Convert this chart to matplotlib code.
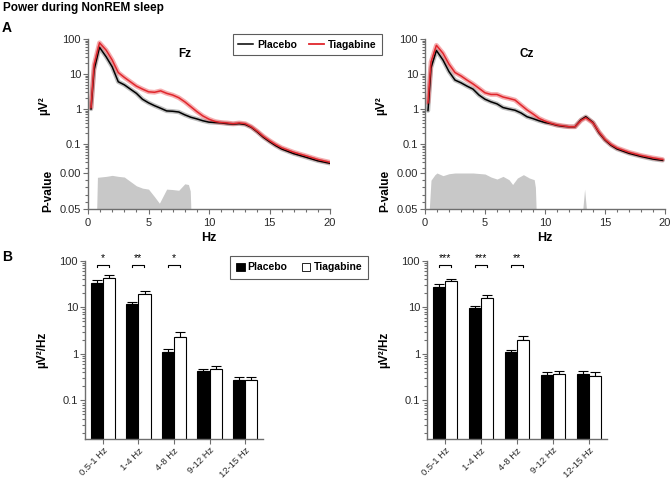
import numpy as np
import matplotlib
matplotlib.use("Agg")
import matplotlib.pyplot as plt
from matplotlib import font_manager
from matplotlib.ticker import FixedLocator, LogLocator, NullFormatter, MultipleLocator
from matplotlib.lines import Line2D
from matplotlib.patches import Patch

plt.rcParams['font.family'] = ['Liberation Sans', 'DejaVu Sans']
_names = {f.name for f in font_manager.fontManager.ttflist}
NARROW = 'Liberation Sans Narrow' if 'Liberation Sans Narrow' in _names else 'Liberation Sans'

# ── Spectra ──
FREQ = [0.25, 0.5, 0.95, 1.5, 2.0, 2.5, 3.0, 3.5, 4.0, 4.5, 5.0, 5.5, 6.0, 6.5, 7.0,
        7.5, 8.0, 8.5, 9.0, 9.5, 10.0, 10.5, 11.0, 11.5, 12.0, 12.5, 13.0, 13.5,
        14.0, 14.5, 15.0, 15.5, 16.0, 17.0, 18.0, 19.0, 20.0]
FZ_PLACEBO = [1.0, 13, 58, 31, 16, 6.0, 4.9, 3.7, 2.8, 1.9, 1.5, 1.24, 1.05, 0.88, 0.86,
              0.82, 0.68, 0.58, 0.52, 0.46, 0.42, 0.41, 0.40, 0.38, 0.37, 0.38, 0.36, 0.30,
              0.22, 0.155, 0.117, 0.09, 0.072, 0.053, 0.042, 0.033, 0.028]
FZ_TIAGABINE = [1.1, 18, 78, 48, 25, 11, 8.0, 6.0, 4.5, 3.7, 3.1, 3.0, 3.3, 2.8, 2.5,
                2.1, 1.6, 1.16, 0.84, 0.63, 0.51, 0.44, 0.41, 0.40, 0.38, 0.40, 0.38, 0.31,
                0.23, 0.165, 0.125, 0.097, 0.078, 0.058, 0.046, 0.036, 0.030]

FREQ_CZ = [0.25, 0.5, 0.95, 1.5, 2.0, 2.5, 3.0, 3.5, 4.0, 4.5, 5.0, 5.5, 6.0, 6.5, 7.0,
           7.5, 8.0, 8.5, 9.0, 9.5, 10.0, 10.5, 11.0, 11.5, 12.0, 12.5, 13.0, 13.4,
           14.0, 14.5, 15.0, 15.5, 16.0, 17.0, 18.0, 19.0, 19.8]
CZ_PLACEBO = [0.9, 15, 47, 25, 11.7, 6.7, 5.6, 4.5, 3.7, 2.5, 1.9, 1.6, 1.4, 1.1, 1.0,
              0.92, 0.77, 0.60, 0.53, 0.46, 0.41, 0.38, 0.34, 0.32, 0.31, 0.31, 0.49, 0.60,
              0.41, 0.21, 0.13, 0.092, 0.072, 0.054, 0.044, 0.037, 0.034]
CZ_TIAGABINE = [1.5, 22, 66, 39, 19, 11, 8.8, 6.7, 5.2, 3.9, 2.9, 2.6, 2.6, 2.2, 2.0,
                1.8, 1.3, 0.94, 0.72, 0.54, 0.45, 0.39, 0.35, 0.33, 0.31, 0.31, 0.47, 0.56,
                0.40, 0.22, 0.135, 0.097, 0.077, 0.058, 0.047, 0.040, 0.036]

# ── P-values (significant stretches) ──
FZ_P_FREQ = [0.72, 0.78, 1.0, 1.5, 2.0, 2.5, 3.0, 3.5, 4.0, 4.5, 5.0, 5.5, 5.9, 6.5,
             7.0, 7.5, 8.0, 8.3, 8.45, 8.5]
FZ_P = [0.05, 0.006, 0.0056, 0.0047, 0.0033, 0.0047, 0.0056, 0.0117, 0.0178, 0.021,
        0.0224, 0.033, 0.042, 0.0224, 0.023, 0.024, 0.015, 0.016, 0.025, 0.05]
CZ_P_FREQ = [0.36, 0.5, 0.83, 1.0, 1.5, 2.0, 2.5, 3.0, 4.0, 5.0, 5.5, 6.0, 6.5, 7.0,
             7.3, 7.7, 8.2, 8.7, 9.1, 9.2, 9.26,
             13.15, 13.3, 13.45]
CZ_P = [0.05, 0.01, 0.0023, 0.0, 0.0037, 0.001, 0.0, 0.0, 0.0, 0.0014, 0.0056, 0.0084,
        0.0047, 0.0093, 0.016, 0.007, 0.0023, 0.007, 0.0093, 0.02, 0.05,
        0.05, 0.0224, 0.05]

# ── Band power bars ──
BANDS = ["0.5-1 Hz", "1-4 Hz", "4-8 Hz", "9-12 Hz", "12-15 Hz"]
FZ_BAR_PLA = [33.5, 11.8, 1.08, 0.425, 0.27]
FZ_BAR_PLA_ERR = [38.7, 13.1, 1.24, 0.48, 0.31]
FZ_BAR_TIA = [43.3, 19.0, 2.35, 0.47, 0.27]
FZ_BAR_TIA_ERR = [50.0, 22.0, 2.95, 0.55, 0.31]
CZ_BAR_PLA = [27.6, 9.7, 1.08, 0.35, 0.37]
CZ_BAR_PLA_ERR = [31.9, 10.8, 1.2, 0.41, 0.43]
CZ_BAR_TIA = [37.4, 15.7, 1.97, 0.365, 0.34]
CZ_BAR_TIA_ERR = [41.0, 18.2, 2.36, 0.43, 0.41]
FZ_STARS = ["*", "**", "*"]
CZ_STARS = ["***", "***", "**"]

RED = "#e0262c"
SPINE = "#6e6e6e"
TICKCOL = "#2a2a2a"
W, H = 671, 479


def frac(left, top, right, bottom):
    return [left / W, 1 - bottom / H, (right - left) / W, (bottom - top) / H]


def style_ax(ax):
    for s in ax.spines.values():
        s.set_color(SPINE)
        s.set_linewidth(1.0)
    ax.spines['top'].set_visible(False)
    ax.spines['right'].set_visible(False)
    ax.tick_params(which='both', direction='out', colors=SPINE, labelcolor=TICKCOL,
                   labelsize=8, width=0.8, labelfontfamily=NARROW)
    ax.tick_params(which='major', length=3.5, pad=1.5)
    ax.tick_params(which='minor', length=2)


def spectrum(ax, pax, f, pla, tia, pf, pv):
    ax.plot(f, pla, color="#8a8a8a", lw=3.2, alpha=0.55, solid_capstyle='round')
    ax.plot(f, tia, color="#ee6a6e", lw=3.4, alpha=0.55, solid_capstyle='round')
    ax.plot(f, pla, color="black", lw=1.1)
    ax.plot(f, tia, color=RED, lw=1.1)
    ax.set_yscale('log')
    ax.set_ylim(0.0148, 100)
    ax.set_xlim(0, 20)
    style_ax(ax)
    ax.spines['bottom'].set_visible(False)
    ax.set_xticks([])
    ax.yaxis.set_major_locator(FixedLocator([0.1, 1, 10, 100]))
    ax.set_yticklabels(["0.1", "1", "10", "100"])
    ax.yaxis.set_minor_locator(LogLocator(base=10, subs=np.arange(2, 10)))
    ax.yaxis.set_minor_formatter(NullFormatter())
    ax.set_ylabel("µV²", fontsize=8.5, fontweight='bold', labelpad=9)

    pax.fill_between(pf, pv, 0.05, color="#c8c8c8", lw=0)
    pax.set_ylim(0.05, 0.0)
    pax.set_xlim(0, 20)
    style_ax(pax)
    pax.set_yticks([0.0, 0.05])
    pax.set_yticklabels(["0.00", "0.05"])
    pax.yaxis.set_minor_locator(MultipleLocator(0.01))
    pax.set_xticks([0, 5, 10, 15, 20])
    pax.xaxis.set_minor_locator(MultipleLocator(1))
    pax.tick_params(axis='x', pad=3)
    pax.set_xlabel("Hz", fontsize=9, fontweight='bold', labelpad=3)
    pax.set_ylabel("P-value", fontsize=8.5, fontweight='bold', labelpad=4)


def bars(ax, pla, pla_e, tia, tia_e, stars):
    x = np.arange(len(BANDS))
    w = 0.345
    ax.bar(x - w / 2, pla, w, color="black", edgecolor="black", lw=0.8, zorder=2)
    ax.bar(x + w / 2, tia, w, color="white", edgecolor="black", lw=0.8, zorder=2)
    up_p = np.array(pla_e) - np.array(pla)
    up_t = np.array(tia_e) - np.array(tia)
    ax.errorbar(x - w / 2, pla, yerr=[np.zeros(len(x)), up_p], fmt='none',
                ecolor='black', elinewidth=0.8, capsize=3.5, capthick=0.8, zorder=1)
    ax.errorbar(x + w / 2, tia, yerr=[np.zeros(len(x)), up_t], fmt='none',
                ecolor='black', elinewidth=0.8, capsize=3.5, capthick=0.8, zorder=1)
    ax.set_yscale('log')
    ax.set_ylim(0.0148, 100)
    ax.set_xlim(-0.5, len(BANDS) - 0.5)
    style_ax(ax)
    ax.yaxis.set_major_locator(FixedLocator([0.1, 1, 10, 100]))
    ax.set_yticklabels(["0.1", "1", "10", "100"])
    ax.yaxis.set_minor_locator(LogLocator(base=10, subs=np.arange(2, 10)))
    ax.yaxis.set_minor_formatter(NullFormatter())
    ax.set_xticks(x)
    ax.set_xticklabels(BANDS, rotation=45, ha='right', rotation_mode='anchor')
    ax.tick_params(axis='x', pad=1.5, labelsize=6.8)
    ax.set_ylabel("µV²/Hz", fontsize=8.5, fontweight='bold', labelpad=8)
    for i, s in enumerate(stars):
        ax.plot([i - 0.17, i - 0.17, i + 0.17, i + 0.17], [74, 81, 81, 74],
                color='black', lw=0.8, clip_on=False)
        ax.text(i, 112, s, ha='center', va='center', fontsize=7.5, clip_on=False)


fig = plt.figure(figsize=(W / 100, H / 100), dpi=100)

ax_fz = fig.add_axes(frac(88, 39, 330, 173))
pax_fz = fig.add_axes(frac(88, 173, 330, 209))
ax_cz = fig.add_axes(frac(425, 39, 665, 173))
pax_cz = fig.add_axes(frac(425, 173, 665, 209))
spectrum(ax_fz, pax_fz, FREQ, FZ_PLACEBO, FZ_TIAGABINE, FZ_P_FREQ, FZ_P)
spectrum(ax_cz, pax_cz, FREQ_CZ, CZ_PLACEBO, CZ_TIAGABINE, CZ_P_FREQ, CZ_P)

bax_fz = fig.add_axes(frac(85, 260.7, 263, 439))
bax_cz = fig.add_axes(frac(427, 260.7, 607, 439))
bars(bax_fz, FZ_BAR_PLA, FZ_BAR_PLA_ERR, FZ_BAR_TIA, FZ_BAR_TIA_ERR, FZ_STARS)
bars(bax_cz, CZ_BAR_PLA, CZ_BAR_PLA_ERR, CZ_BAR_TIA, CZ_BAR_TIA_ERR, CZ_STARS)

fig.text(185 / W, 1 - 54 / H, "Fz", fontsize=8.5, fontweight='bold', ha='center', va='center')
fig.text(527 / W, 1 - 54 / H, "Cz", fontsize=8.5, fontweight='bold', ha='center', va='center')
fig.text(3 / W, 1 - 8 / H, "Power during NonREM sleep", fontsize=8.5, fontweight='bold',
         ha='left', va='center')
fig.text(2 / W, 1 - 28 / H, "A", fontsize=10, fontweight='bold', ha='left', va='center')
fig.text(2 / W, 1 - 257 / H, "B", fontsize=10, fontweight='bold', ha='left', va='center')

# legends
line_handles = [Line2D([], [], color='black', lw=1.1), Line2D([], [], color=RED, lw=1.3)]
legA = fig.legend(line_handles, ["Placebo", "Tiagabine"], loc='center',
                  bbox_to_anchor=(307.5 / W, 1 - 44.5 / H), ncol=2, frameon=True,
                  fancybox=False, edgecolor='#333333', handlelength=1.4, handletextpad=0.4,
                  columnspacing=1.2, borderpad=0.5, prop={'weight': 'bold', 'size': 7.5})
legA.get_frame().set_linewidth(0.8)

box_handles = [Patch(facecolor='black', edgecolor='black', lw=0.6),
               Patch(facecolor='white', edgecolor='black', lw=0.6)]
legB = fig.legend(box_handles, ["Placebo", "Tiagabine"], loc='center',
                  bbox_to_anchor=(299.2 / W, 1 - 267.5 / H), ncol=2, frameon=True,
                  fancybox=False, edgecolor='#333333', handlelength=0.8, handleheight=0.8,
                  handletextpad=0.3, columnspacing=1.4, borderpad=0.6,
                  prop={'weight': 'bold', 'size': 7.5})
legB.get_frame().set_linewidth(0.8)

fig.savefig("out.png", dpi=100)
